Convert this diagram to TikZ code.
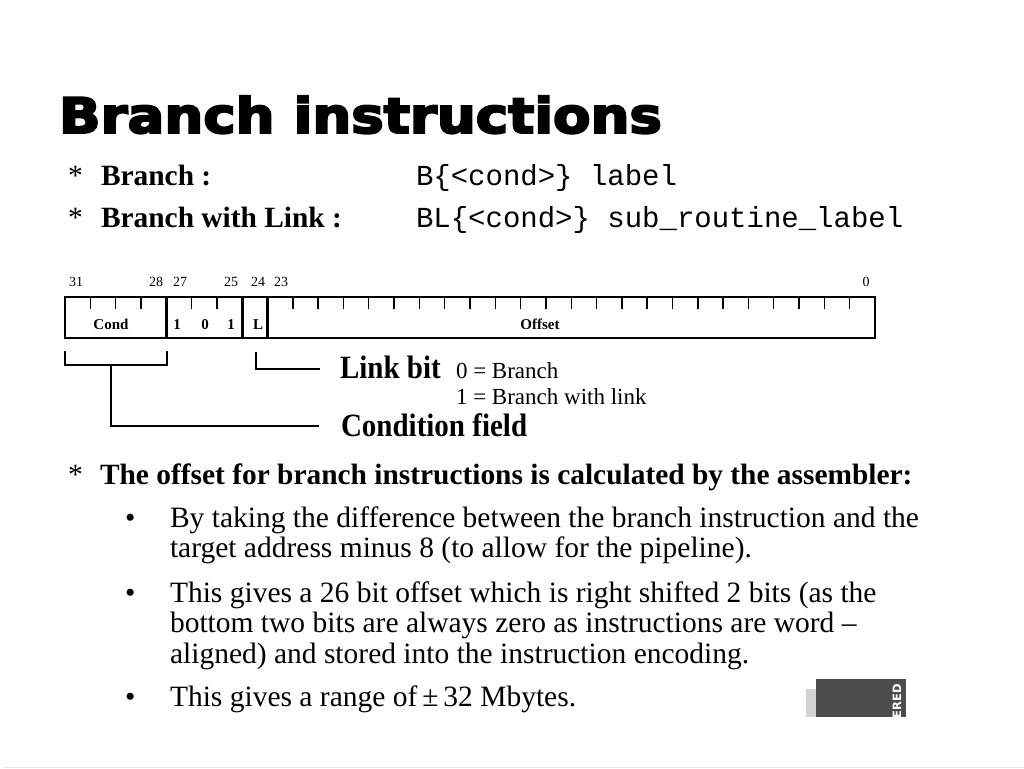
\documentclass[tikz,border=0pt]{standalone}
\usepackage{fontspec}
\usepackage{graphicx}
\setmainfont{Liberation Serif}
\setmonofont{Liberation Mono}
\newfontfamily\titlefont[BoldFeatures={FakeBold=4}]{DejaVu Sans}
\newfontfamily\smallsans{DejaVu Sans}
\definecolor{boxgray}{HTML}{4D4D4D}
\definecolor{lightbox}{HTML}{D2D2D2}
\definecolor{rulegray}{HTML}{E6E6E6}
\tikzset{
  txt/.style={anchor=base west, inner sep=0pt, outer sep=0pt},
  ctxt/.style={anchor=base, inner sep=0pt, outer sep=0pt},
  bitnum/.style={ctxt, font=\fontsize{14}{14}\selectfont},
  fieldlbl/.style={ctxt, font=\fontsize{15}{15}\selectfont\bfseries},
  body/.style={txt, font=\fontsize{29.5}{31}\selectfont},
  bodybf/.style={txt, font=\fontsize{29.4}{31}\selectfont\bfseries},
  mono/.style={txt, font=\fontsize{29}{31}\selectfont\ttfamily},
  callout/.style={txt, font=\fontsize{29}{31}\selectfont\bfseries},
  calloutsm/.style={txt, font=\fontsize{23}{25}\selectfont},
  titletxt/.style={txt, font=\fontsize{49}{49}\selectfont\titlefont\bfseries},
  frame/.style={line width=1.6pt},
  sep/.style={line width=3.2pt},
  tick/.style={line width=1.4pt},
  bracket/.style={line width=1.6pt}
}
\begin{document}
\begin{tikzpicture}[x=1pt,y=-1pt]
\useasboundingbox (0,0) rectangle (1024,768);
\fill[white] (0,0) rectangle (1024,768);

% title
\node[titletxt] (title) at (59,133) {\scalebox{1.115}[1]{Branch instructions}};

% syntax lines
\node[body] (ast1) at (68,185) {*};
\node[bodybf] (br) at (101,185) {Branch :};
\node[mono] (brs) at (416,185) {B\{<cond>\} label};
\node[body] (ast2) at (68,227) {*};
\node[bodybf] (brl) at (101,227) {Branch with Link :};
\node[mono] (brls) at (416,227) {BL\{<cond>\} sub\_routine\_label};

% instruction encoding box
\pgfmathsetmacro{\bw}{810/32}
\draw[frame] (65,297) rectangle (875,338);
\foreach \i in {1,2,3,5,6,9,10,...,31}{
  \draw[tick] ({65+\i*\bw},297) -- ({65+\i*\bw},309);
}
\foreach \i in {4,7,8}{
  \draw[sep] ({65+\i*\bw},297) -- ({65+\i*\bw},338);
}
% bit numbers
\node[bitnum] (b31) at (76,286) {31};
\node[bitnum] (b28) at (156,286) {28};
\node[bitnum] (b27) at (180,286) {27};
\node[bitnum] (b25) at (231,286) {25};
\node[bitnum] (b24) at (258,286) {24};
\node[bitnum] (b23) at (281,286) {23};
\node[bitnum] (b0) at (866,286) {0};
% field labels
\node[fieldlbl] (cond) at (111,329) {Cond};
\node[fieldlbl] (one1) at (177,329) {1};
\node[fieldlbl] (zero) at (205,329) {0};
\node[fieldlbl] (one2) at (231,329) {1};
\node[fieldlbl] (lbit) at (258,329) {L};
\node[fieldlbl] (off) at (540,329) {Offset};

% callouts
\node[callout] (linkbit) at (340,378) {\scalebox{1}[1.12]{Link bit}};
\node[calloutsm] (l0) at (456,378) {0 = Branch};
\node[calloutsm] (l1) at (456,404) {1 = Branch with link};
\node[callout] (condf) at (341,436) {\scalebox{1}[1.12]{Condition field}};
\coordinate (lk) at (256,352);
\coordinate (lkend) at (320,369);
\coordinate (cl) at (65,351);
\coordinate (cr) at (167,351);
\coordinate (cs) at (111,365);
\coordinate (cend) at (319,426);
\draw[bracket] (lk) |- (lkend);
\draw[bracket] (cl) |- (cs) -| (cr);
\draw[bracket] (cs) |- (cend);

% offset explanation
\node[body] (ast3) at (68,484) {*};
\node[bodybf] (hdr) at (100,484) {The offset for branch instructions is calculated by the assembler:};
\node[body] (bul1) at (125,527) {•};
\node[body] (t1a) at (170,527) {By taking the difference between the branch instruction and the};
\node[body] (t1b) at (170,557.5) {target address minus 8 (to allow for the pipeline).};
\node[body] (bul2) at (125,602) {•};
\node[body] (t2a) at (170,602) {This gives a 26 bit offset which is right shifted 2 bits (as the};
\node[body] (t2b) at (170,632) {bottom two bits are always zero as instructions are word –};
\node[body] (t2c) at (170,663) {aligned) and stored into the instruction encoding.};
\node[body] (bul3) at (125,706) {•};
\node[body] (t3) at (170,706) {This gives a range of\,±\,32 Mbytes.};

% corner badge
\fill[lightbox] (806,689) rectangle (816,717);
\fill[boxgray] (816,679) rectangle (906,717);
\node[inner sep=0pt, rotate=90, text=white, font=\fontsize{11.5}{11.5}\selectfont\smallsans\bfseries] (badge) at (897,701) {ERED};

% bottom rule
\draw[rulegray, line width=1pt] (4,767) -- (1024,767);
\end{tikzpicture}
\end{document}
